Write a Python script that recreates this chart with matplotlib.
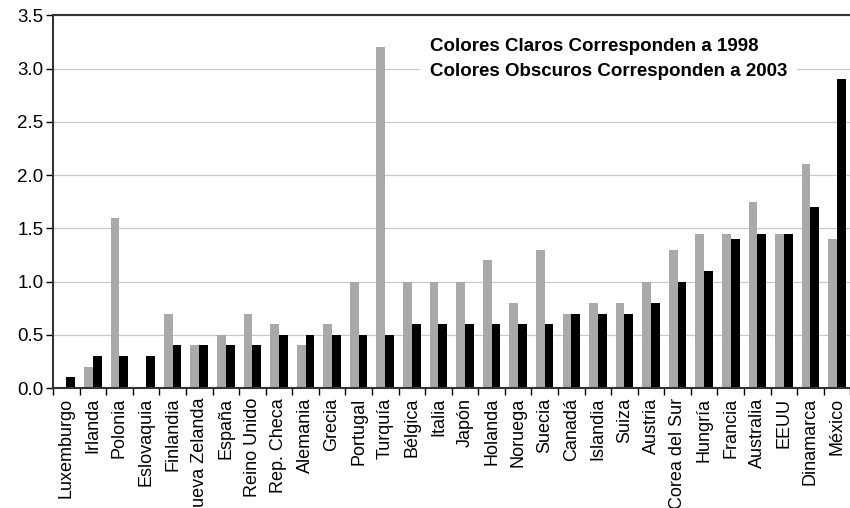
import numpy as np
import matplotlib.pyplot as plt

plt.rcParams['font.family'] = ['Liberation Sans', 'DejaVu Sans']

paises = ['Luxemburgo', 'Irlanda', 'Polonia', 'Eslovaquia', 'Finlandia', 'Nueva Zelanda',
          'España', 'Reino Unido', 'Rep. Checa', 'Alemania', 'Grecia', 'Portugal',
          'Turquía', 'Bélgica', 'Italia', 'Japón', 'Holanda', 'Noruega', 'Suecia',
          'Canadá', 'Islandia', 'Suiza', 'Austria', 'Corea del Sur', 'Hungría',
          'Francia', 'Australia', 'EEUU', 'Dinamarca', 'México']
v1998 = [0.0, 0.2, 1.6, 0.0, 0.7, 0.4, 0.5, 0.7, 0.6, 0.4, 0.6, 1.0, 3.2, 1.0, 1.0,
         1.0, 1.2, 0.8, 1.3, 0.7, 0.8, 0.8, 1.0, 1.3, 1.45, 1.45, 1.75, 1.45, 2.1, 1.4]
v2003 = [0.1, 0.3, 0.3, 0.3, 0.4, 0.4, 0.4, 0.4, 0.5, 0.5, 0.5, 0.5, 0.5, 0.6, 0.6,
         0.6, 0.6, 0.6, 0.6, 0.7, 0.7, 0.7, 0.8, 1.0, 1.1, 1.4, 1.45, 1.45, 1.7, 2.9]

x = np.arange(len(paises))
w = 0.33

fig = plt.figure(figsize=(8.5, 5.08), dpi=100)
ax = fig.add_axes([0.0624, 0.236, 0.938, 0.734])

ax.bar(x - w / 2, v1998, w, color='#a9a9a9', zorder=2)
ax.bar(x + w / 2, v2003, w, color='black', zorder=2)

ax.set_xlim(-0.5, len(paises) - 0.5)
ax.set_ylim(0, 3.5)
yt = np.arange(0, 3.51, 0.5)
ax.set_yticks(yt)
ax.set_yticklabels([f'{t:.1f}' for t in yt], fontsize=13.5)
ax.yaxis.grid(True, color='#c8c8c8', linewidth=0.9, zorder=0)
ax.set_axisbelow(True)

ax.set_xticks(x)
# "Nueva Zelanda" runs off the bottom edge, as in the original
ax.set_xticklabels(paises, rotation=90, fontsize=13)
ax.tick_params(axis='x', length=0, pad=7)
ax.set_xticks(np.arange(-0.5, len(paises), 1), minor=True)
ax.tick_params(axis='x', which='minor', length=5, width=1, direction='out')
ax.tick_params(axis='y', length=5, width=1, direction='out', pad=2)

for s in ['left', 'bottom', 'top']:
    ax.spines[s].set_color('#333333')
    ax.spines[s].set_linewidth(1.5)
ax.spines['right'].set_visible(False)

ax.text(0.473, 0.94, 'Colores Claros Corresponden a 1998\nColores Obscuros Corresponden a 2003',
        transform=ax.transAxes, fontsize=13.5, fontweight='bold', va='top', ha='left',
        linespacing=1.65, zorder=3,
        bbox=dict(facecolor='white', edgecolor='none', pad=7))

fig.savefig('out.png', dpi=100)
